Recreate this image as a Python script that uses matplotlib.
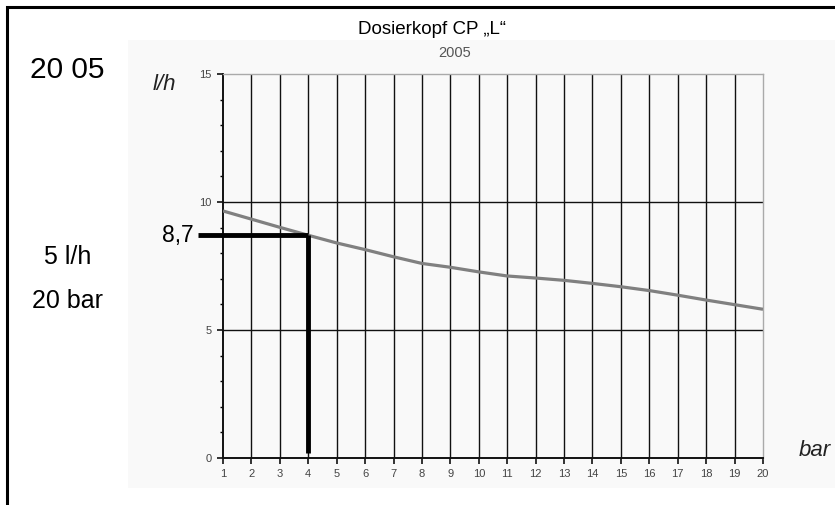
import numpy as np
import matplotlib.pyplot as plt
import matplotlib.transforms as mtransforms
from matplotlib.patches import Rectangle

plt.rcParams['font.family'] = ['Liberation Sans', 'DejaVu Sans']

# Förderleistung Dosierkopf CP "L" über Gegendruck
pressure = [1, 2, 3, 4, 5, 6, 7, 8, 9, 10, 11, 12, 13, 14, 15, 16, 17, 18, 19, 20]
flow = [9.65, 9.33, 9.01, 8.70, 8.40, 8.14, 7.86, 7.60, 7.45, 7.27,
        7.11, 7.03, 6.94, 6.82, 6.69, 6.54, 6.36, 6.17, 5.99, 5.81]

read_pressure = 4
read_flow = 8.7
read_label = "8,7"

title = "Dosierkopf CP \u201eL\u201c"
subtitle = "2005"
side_texts = ["20 05", "5 l/h", "20 bar"]

fig = plt.figure(figsize=(8.35, 5.05), dpi=100)

# grey panel behind the diagram and outer frame
fig.patches.append(Rectangle((128 / 835, 1 - 488 / 505), 1, (488 - 40) / 505,
                             transform=fig.transFigure, facecolor='#f9f9f9',
                             edgecolor='none', zorder=-1))
fig.patches.append(Rectangle((7 / 835, -0.1), 1.2, 1 - 7 / 505 + 0.1,
                             transform=fig.transFigure, facecolor='none',
                             edgecolor='black', linewidth=2.2, zorder=-1))

ax = fig.add_axes([223 / 835, 47 / 505, 540 / 835, 384 / 505])
ax.set_zorder(2)
ax.set_facecolor('#f9f9f9')
ax.set_xlim(1, 20)
ax.set_ylim(0, 15)

for x in pressure[1:-1]:
    ax.axvline(x, color='#111111', linewidth=1.0, zorder=1)
for y in (5, 10):
    ax.axhline(y, color='#111111', linewidth=1.0, zorder=1)

ax.plot(pressure, flow, color='#808080', linewidth=2.3, zorder=3,
        solid_capstyle='butt')

# reading lines at 4 bar
trans = mtransforms.blended_transform_factory(ax.transAxes, ax.transData)
ax.plot([-0.046, (read_pressure - 1) / 19], [read_flow, read_flow],
        transform=trans, color='black', linewidth=3.5, clip_on=False,
        solid_capstyle='butt', zorder=4)
ax.plot([read_pressure, read_pressure], [read_flow, 0.2], color='black',
        linewidth=3.5, solid_capstyle='butt', zorder=4)
ax.text(-0.055, read_flow, read_label, transform=trans, ha='right',
        va='center', fontsize=16.5, color='black')

for side in ('top', 'right'):
    ax.spines[side].set_color('#aaaaaa')
    ax.spines[side].set_linewidth(1.0)
for side in ('left', 'bottom'):
    ax.spines[side].set_color('#111111')
    ax.spines[side].set_linewidth(1.4)

ax.set_xticks(pressure)
ax.set_yticks([0, 5, 10, 15])
ax.set_yticks(range(0, 16), minor=True)
ax.tick_params(axis='both', direction='out', colors='#111111',
               labelcolor='#444444', labelsize=8, length=4, width=1.2, pad=4)
ax.tick_params(axis='y', which='minor', length=2.5, width=1.0)

ax.text(-0.13, 1.0, "l/h", transform=ax.transAxes, ha='left', va='top',
        fontsize=16, style='italic', color='#222222')
ax.text(1.067, 0.02, "bar", transform=ax.transAxes, ha='left', va='center',
        fontsize=16, style='italic', color='#222222')

fig.text(432 / 835, 1 - 30 / 505, title, ha='center', va='center',
         fontsize=13.5, color='black')
fig.text(455 / 835, 1 - 53 / 505, subtitle, ha='center', va='center',
         fontsize=10.5, color='#555555')

fig.text(67 / 835, 1 - 70 / 505, side_texts[0], ha='center', va='center',
         fontsize=21.5, color='black')
fig.text(68 / 835, 1 - 257 / 505, side_texts[1], ha='center', va='center',
         fontsize=18, color='black')
fig.text(68 / 835, 1 - 301 / 505, side_texts[2], ha='center', va='center',
         fontsize=18, color='black')

fig.savefig('out.png', dpi=100, facecolor='white')
